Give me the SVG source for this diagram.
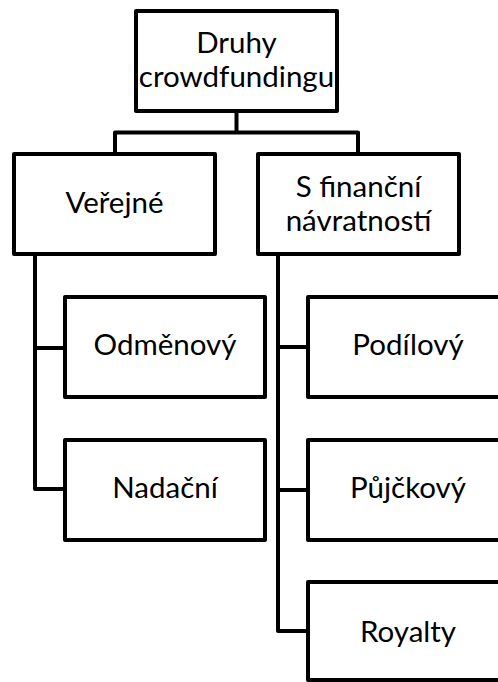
<svg xmlns="http://www.w3.org/2000/svg" width="498" height="682" viewBox="0 0 498 682">
<style>
.box{fill:#fff;stroke:#000;stroke-width:4;stroke-linejoin:round}
.ln{fill:none;stroke:#000;stroke-width:4;stroke-linejoin:round}
.t{font-family:Lato,"Liberation Sans",sans-serif;font-size:29.5px;fill:#000;text-anchor:middle}
</style>
<rect width="498" height="682" fill="#fff"/>
<g id="connectors">
<path class="ln" d="M236.5 111 V132.5 M115 154 V132.5 H358 V154"/>
<path class="ln" d="M35 254 V489 H65 M35 348 H65"/>
<path class="ln" d="M278 254 V631 H308 M278 347 H308 M278 490 H308"/>
</g>
<g id="root"><rect class="box" x="136" y="11" width="201" height="100"/><text class="t" x="236.5" y="53">Druhy</text><text class="t" x="236.5" y="87">crowdfundingu</text></g>
<g id="verejne"><rect class="box" x="14" y="154" width="201" height="100"/><text class="t" x="114.5" y="213">Veřejné</text></g>
<g id="financni"><rect class="box" x="258" y="154" width="201" height="100"/><text class="t" x="358.5" y="197">S finanční</text><text class="t" x="358.5" y="231">návratností</text></g>
<g id="odmenovy"><rect class="box" x="65" y="297" width="200" height="100"/><text class="t" x="165" y="355">Odměnový</text></g>
<g id="nadacni"><rect class="box" x="65" y="440" width="200" height="100"/><text class="t" x="165" y="498">Nadační</text></g>
<g id="podilovy"><rect class="box" x="308" y="297" width="200" height="100"/><text class="t" x="408" y="355">Podílový</text></g>
<g id="pujckovy"><rect class="box" x="308" y="440" width="200" height="100"/><text class="t" x="408" y="498">Půjčkový</text></g>
<g id="royalty"><rect class="box" x="308" y="582" width="200" height="98"/><text class="t" x="408" y="642">Royalty</text></g>
</svg>
